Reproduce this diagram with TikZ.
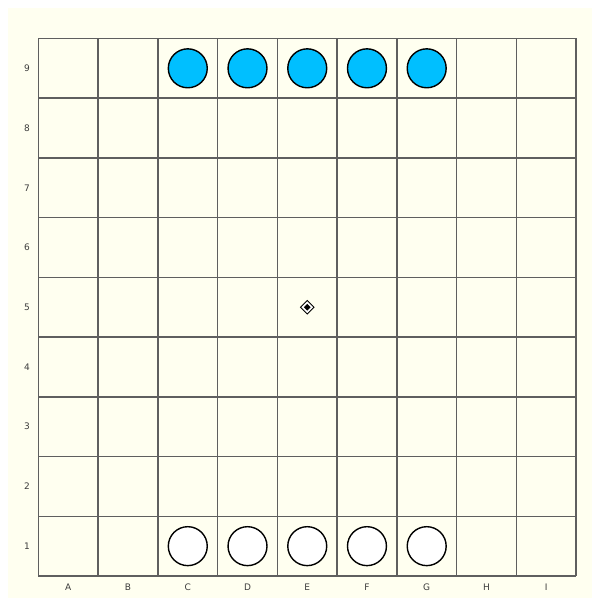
\documentclass[tikz,border=0pt]{standalone}
\usepackage{fontspec}
\setmainfont{DejaVu Sans}
\usepackage{xcolor}
\usepackage{tikz}
\usetikzlibrary{shapes.geometric, positioning}
\definecolor{fundo}{RGB}{255, 255, 240}
\definecolor{linha}{RGB}{95, 95, 95}
\definecolor{azulpeca}{RGB}{0, 191, 255}
\definecolor{rotulo}{RGB}{60, 60, 60}

\begin{document}
\begin{tikzpicture}[x=59.8pt, y=59.8pt,
    grade/.style={draw=linha, line width=1.5pt},
    peca/.style={circle, draw=black, line width=1.4pt, minimum size=39pt, inner sep=0pt},
    azul/.style={peca, fill=azulpeca},
    branca/.style={peca, fill=white},
    marca/.style={diamond, draw=black, fill=white, line width=0.9pt, minimum size=14pt, inner sep=0pt},
    centro/.style={diamond, fill=black, minimum size=7pt, inner sep=0pt},
    coord/.style={text=rotulo, font=\fontsize{9}{11}\selectfont}
]
    % Background
    \useasboundingbox (-38.5pt, -22pt) rectangle ([xshift=16.2pt, yshift=38.5pt]9, 9);
    \fill[white] (-38.5pt, -22pt) rectangle ([xshift=16.2pt, yshift=38.5pt]9, 9);
    \fill[fundo] (-30.5pt, -22pt) rectangle ([xshift=16.2pt, yshift=30.5pt]9, 9);

    % Board
    \foreach \i in {0,...,9} {
        \draw[grade] (\i, 0) -- (\i, 9);
        \draw[grade] (0, \i) -- (9, \i);
    }

    % Coordinates
    \foreach \l [count=\c] in {A,B,C,D,E,F,G,H,I}
        \node[coord] (col-\l) at ([yshift=-11pt]\c-0.5, 0) {\l};
    \foreach \r in {1,...,9}
        \node[coord] (lin-\r) at ([xshift=-11.5pt]0, \r-0.5) {\r};

    % Pieces
    \foreach \l/\c in {C/3, D/4, E/5, F/6, G/7} {
        \node[azul] (a-\l) at (\c-0.5, 8.5) {};
        \node[branca] (b-\l) at (\c-0.5, 0.5) {};
    }

    % Centre mark
    \node[marca] (meio) at (4.5, 4.5) {};
    \node[centro] (meio-int) at (meio) {};
\end{tikzpicture}
\end{document}
